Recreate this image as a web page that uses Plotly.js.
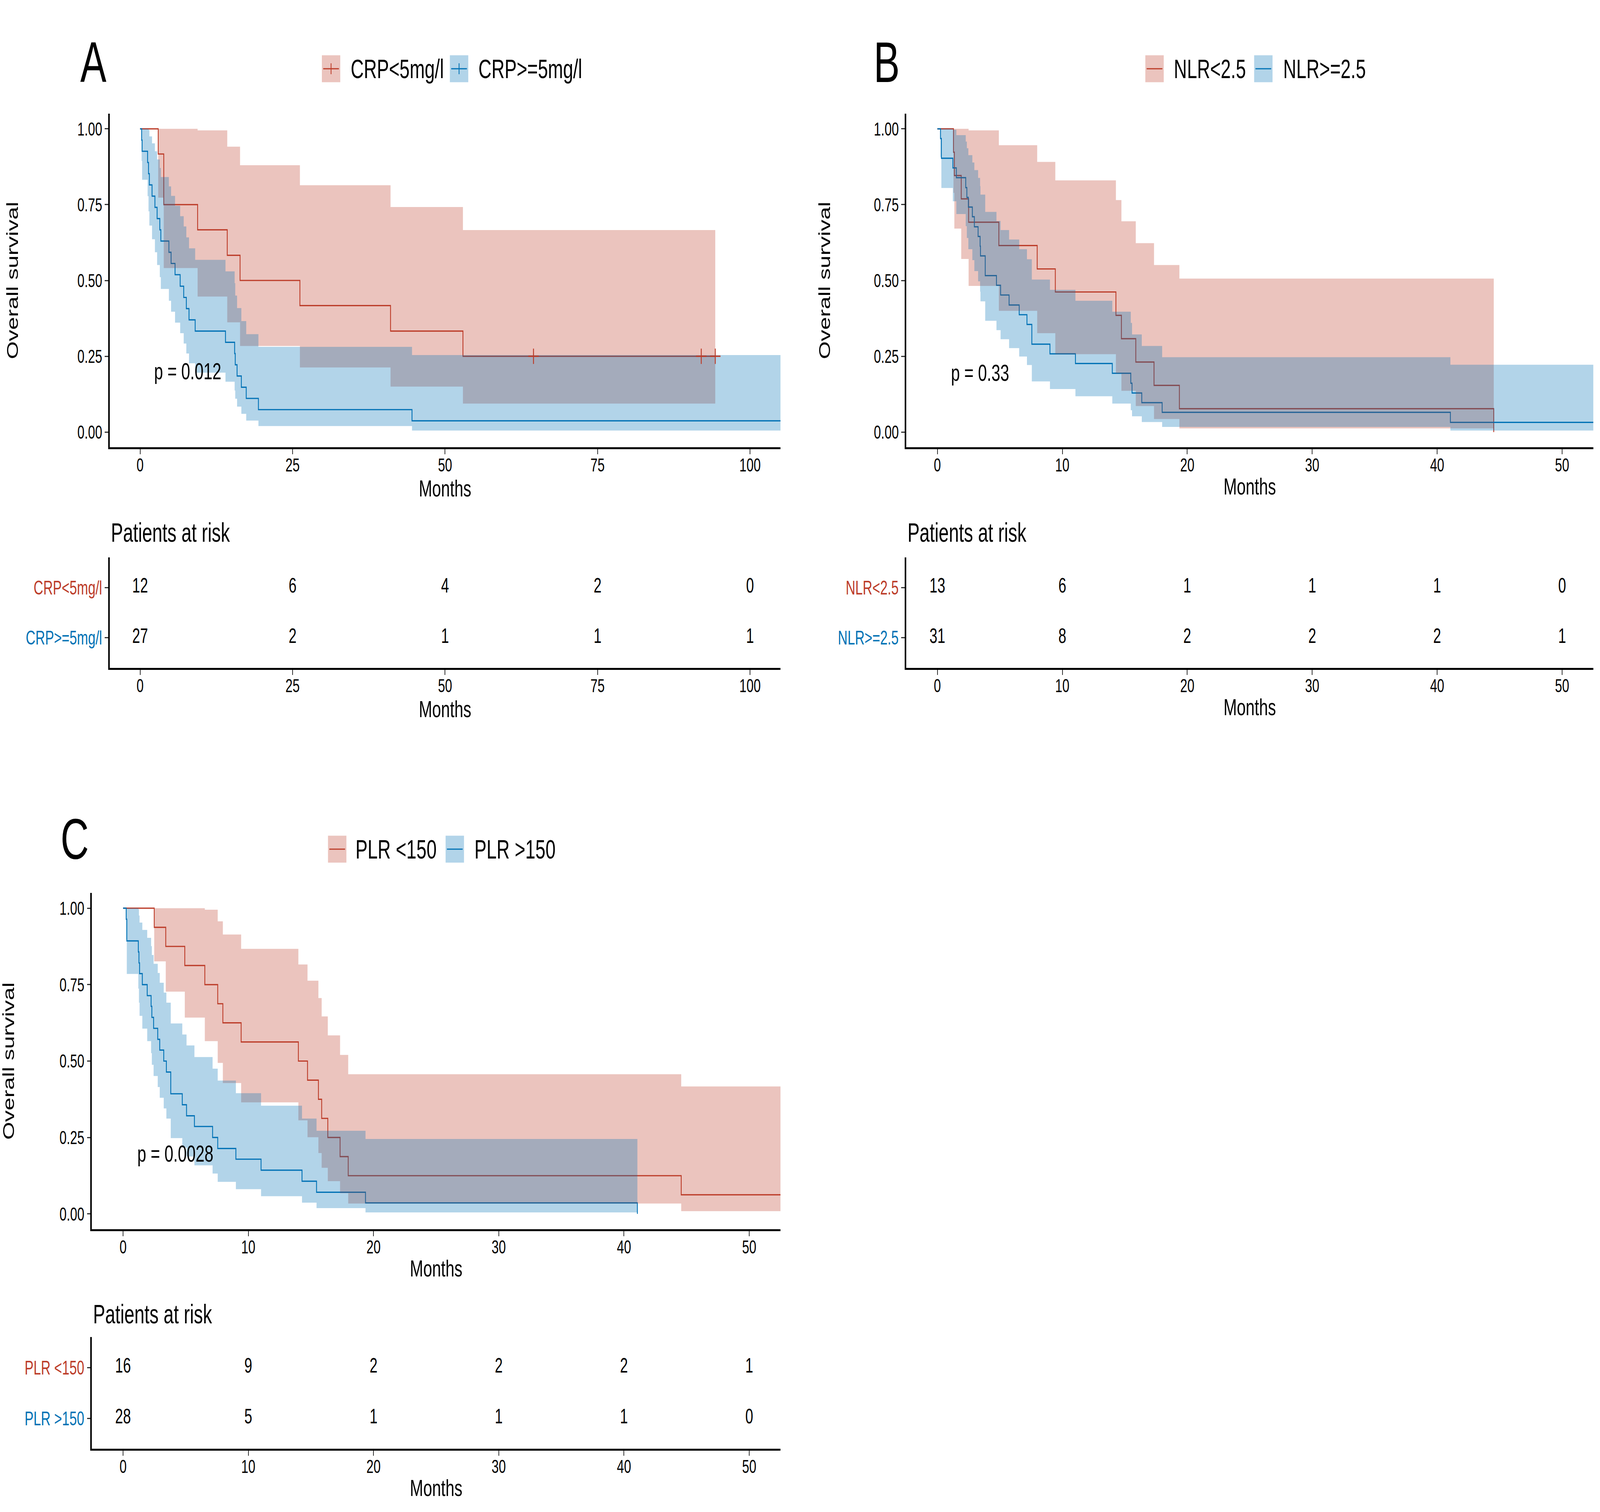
<!DOCTYPE html>
<html>
<head>
<meta charset="utf-8">
<script src="https://cdn.plot.ly/plotly-3.0.1.min.js"></script>
<style>
html,body{margin:0;padding:0;background:#fff;overflow:hidden;width:100%;height:100%;}
#wrap{position:absolute;left:0;top:0;width:6000px;height:3871px;transform-origin:0 0;}
#chart{width:6000px;height:3871px;}
</style>
</head>
<body>
<div id="wrap"><div id="chart"></div></div>
<script>
// ---------------- DATA ----------------
// Panel A : CRP
const aGroups = ['CRP<5mg/l', 'CRP>=5mg/l'];
const aTimeRed  = [2.97, 3.88, 9.43, 14.29, 16.39, 26.2, 41.06, 52.93];
const aSurvRed  = [0.917, 0.750, 0.667, 0.583, 0.500, 0.417, 0.333, 0.250];
const aUpperRed = [1, 1, 0.995, 0.941, 0.880, 0.814, 0.742, 0.666];
const aLowerRed = [0.773, 0.541, 0.447, 0.362, 0.284, 0.213, 0.150, 0.094];
const aEndRed = 94.3;
const aCensorRed = [64.5, 92.0, 94.3];
const aCensorRedSurv = [0.25, 0.25, 0.25];
const aTimeBlue  = [0.25, 0.33, 1.23, 1.38, 1.52, 1.96, 2.43, 2.79, 3.23, 3.40, 4.72, 5.08, 5.73, 6.57, 7.15, 7.58, 8.02, 9.03, 14.0, 15.5, 15.6, 15.9, 16.6, 17.4, 19.4, 44.58];
const aSurvBlue  = [0.963, 0.926, 0.889, 0.852, 0.815, 0.778, 0.741, 0.704, 0.667, 0.630, 0.593, 0.556, 0.519, 0.481, 0.444, 0.407, 0.370, 0.333, 0.296, 0.259, 0.222, 0.185, 0.148, 0.111, 0.074, 0.037];
const aUpperBlue = [1, 1, 1, 0.997, 0.975, 0.952, 0.926, 0.899, 0.871, 0.841, 0.810, 0.779, 0.746, 0.712, 0.678, 0.642, 0.606, 0.568, 0.530, 0.491, 0.450, 0.409, 0.366, 0.323, 0.281, 0.254];
const aLowerBlue = [0.894, 0.832, 0.778, 0.728, 0.681, 0.636, 0.593, 0.551, 0.511, 0.472, 0.433, 0.397, 0.361, 0.326, 0.292, 0.259, 0.227, 0.196, 0.166, 0.137, 0.110, 0.084, 0.060, 0.038, 0.020, 0.005];
const aEndBlue = 105;
const aRiskTimes = [0, 25, 50, 75, 100];
const aRiskRed  = [12, 6, 4, 2, 0];
const aRiskBlue = [27, 2, 1, 1, 1];
const aPval = 'p = 0.012';

// Panel B : NLR
const bGroups = ['NLR<2.5', 'NLR>=2.5'];
const bTimeRed  = [1.29, 1.36, 1.91, 2.50, 4.92, 7.99, 9.44, 14.29, 14.73, 15.88, 17.34, 19.37, 44.53];
const bSurvRed  = [0.923, 0.846, 0.769, 0.692, 0.615, 0.538, 0.462, 0.385, 0.308, 0.231, 0.154, 0.077, 0];
const bUpperRed = [1, 1, 1, 0.995, 0.946, 0.891, 0.830, 0.765, 0.695, 0.623, 0.551, 0.506, null];
const bLowerRed = [0.789, 0.671, 0.571, 0.482, 0.400, 0.326, 0.257, 0.193, 0.136, 0.086, 0.043, 0.012, null];
const bEndRed = 44.53;
const bTimeBlue  = [0.25, 0.32, 1.24, 1.52, 2.27, 2.36, 2.48, 2.80, 2.96, 3.26, 3.42, 3.45, 3.83, 4.73, 5.06, 5.74, 6.55, 7.17, 7.56, 9.01, 11.05, 14.0, 15.48, 15.58, 16.36, 17.99, 41.06];
const bSurvBlue  = [0.968, 0.903, 0.871, 0.839, 0.806, 0.774, 0.742, 0.710, 0.677, 0.645, 0.613, 0.581, 0.516, 0.484, 0.452, 0.419, 0.387, 0.355, 0.290, 0.258, 0.226, 0.194, 0.161, 0.129, 0.097, 0.065, 0.032];
const bUpperBlue = [1, 1, 0.997, 0.979, 0.958, 0.936, 0.913, 0.889, 0.864, 0.838, 0.811, 0.783, 0.726, 0.696, 0.666, 0.635, 0.603, 0.570, 0.503, 0.469, 0.433, 0.397, 0.360, 0.322, 0.284, 0.247, 0.222];
const bLowerBlue = [0.907, 0.805, 0.761, 0.719, 0.679, 0.640, 0.603, 0.567, 0.531, 0.497, 0.463, 0.431, 0.367, 0.336, 0.306, 0.277, 0.249, 0.221, 0.167, 0.142, 0.118, 0.094, 0.072, 0.052, 0.033, 0.017, 0.005];
const bEndBlue = 52.5;
const bRiskTimes = [0, 10, 20, 30, 40, 50];
const bRiskRed  = [13, 6, 1, 1, 1, 0];
const bRiskBlue = [31, 8, 2, 2, 2, 1];
const bPval = 'p = 0.33';

// Panel C : PLR
const cGroups = ['PLR <150', 'PLR >150'];
const cTimeRed  = [2.49, 3.41, 4.93, 6.53, 7.56, 7.97, 9.43, 14.0, 14.73, 15.6, 15.86, 16.35, 17.33, 17.98, 44.57];
const cSurvRed  = [0.9375, 0.875, 0.8125, 0.75, 0.6875, 0.625, 0.5625, 0.5, 0.4375, 0.375, 0.3125, 0.25, 0.1875, 0.125, 0.0625];
const cUpperRed = [1, 1, 1, 0.995, 0.957, 0.914, 0.867, 0.816, 0.763, 0.706, 0.646, 0.584, 0.520, 0.457, 0.417];
const cLowerRed = [0.826, 0.727, 0.642, 0.565, 0.494, 0.428, 0.365, 0.306, 0.251, 0.199, 0.151, 0.107, 0.068, 0.034, 0.009];
const cEndRed = 52.5;
const cTimeBlue  = [0.25, 0.30, 1.22, 1.27, 1.32, 1.54, 1.93, 2.24, 2.30, 2.44, 2.77, 2.93, 3.25, 3.46, 3.81, 4.73, 5.07, 5.70, 7.15, 7.56, 9.01, 11.02, 14.29, 15.45, 19.36, 41.07];
const cSurvBlue  = [0.964, 0.893, 0.857, 0.821, 0.786, 0.750, 0.714, 0.679, 0.643, 0.607, 0.571, 0.536, 0.500, 0.464, 0.393, 0.357, 0.321, 0.286, 0.250, 0.214, 0.179, 0.143, 0.107, 0.071, 0.036, 0];
const cUpperBlue = [1, 1, 0.997, 0.976, 0.953, 0.929, 0.903, 0.876, 0.847, 0.818, 0.788, 0.756, 0.724, 0.691, 0.623, 0.587, 0.551, 0.513, 0.475, 0.436, 0.395, 0.354, 0.312, 0.272, 0.245, null];
const cLowerBlue = [0.898, 0.785, 0.737, 0.691, 0.648, 0.606, 0.565, 0.526, 0.488, 0.451, 0.415, 0.380, 0.345, 0.312, 0.248, 0.217, 0.188, 0.159, 0.132, 0.105, 0.081, 0.058, 0.037, 0.019, 0.005, null];
const cEndBlue = 41.07;
const cRiskTimes = [0, 10, 20, 30, 40, 50];
const cRiskRed  = [16, 9, 2, 2, 2, 1];
const cRiskBlue = [28, 5, 1, 1, 1, 0];
const cPval = 'p = 0.0028';

const yTickVals = [0, 0.25, 0.5, 0.75, 1];
const yTickText = ['0.00', '0.25', '0.50', '0.75', '1.00'];

// ---------------- STYLE ----------------
const RED = '#BC3C29', BLUE = '#0072B5';
const RED_FILL = 'rgba(188,60,41,0.3)', BLUE_FILL = 'rgba(0,114,181,0.3)';
const FONT = 'Liberation Sans, Arial, sans-serif';
const W = 6000, H = 3871;
const PX = v => v / W, PY = v => 1 - v / H;
const esc = s => s.replace(/</g, '&lt;').replace(/>/g, '&gt;');

// fit the 6000x3871 design into whatever window the page is opened in
(function fit() {
  const sx = (window.innerWidth || W) / W, sy = (window.innerHeight || H) / H;
  document.getElementById('wrap').style.transform = 'scale(' + sx + ',' + sy + ')';
})();

function curve(t, s, tEnd) {
  const x = [0].concat(t), y = [1].concat(s);
  if (s[s.length - 1] > 0) { x.push(tEnd); y.push(s[s.length - 1]); }
  return {x, y};
}
function band(t, up, lo, tEnd) {
  const idx = [];
  for (let i = 0; i < t.length; i++) if (up[i] != null && lo[i] != null) idx.push(i);
  const xs = [], ys = [];
  idx.forEach(i => { const x1 = i + 1 < t.length ? t[i + 1] : tEnd; xs.push(t[i], x1); ys.push(up[i], up[i]); });
  idx.slice().reverse().forEach(i => { const x1 = i + 1 < t.length ? t[i + 1] : tEnd; xs.push(x1, t[i]); ys.push(lo[i], lo[i]); });
  return {x: xs, y: ys};
}

const traces = [];
function addPanel(xa, ya, xt, yt, red, blue, risk) {
  const cr = curve(red.t, red.s, red.end), cb = curve(blue.t, blue.s, blue.end);
  traces.push({type: 'scatter', mode: 'lines', x: cr.x, y: cr.y, xaxis: xa, yaxis: ya, line: {color: RED, width: 3.2, shape: 'hv'}, hoverinfo: 'skip', showlegend: false});
  traces.push({type: 'scatter', mode: 'lines', x: cb.x, y: cb.y, xaxis: xa, yaxis: ya, line: {color: BLUE, width: 3.2, shape: 'hv'}, hoverinfo: 'skip', showlegend: false});
  const br = band(red.t, red.u, red.l, red.end), bb = band(blue.t, blue.u, blue.l, blue.end);
  traces.push({type: 'scatter', mode: 'lines', x: br.x, y: br.y, xaxis: xa, yaxis: ya, fill: 'toself', fillcolor: RED_FILL, line: {width: 0, color: 'rgba(0,0,0,0)'}, hoverinfo: 'skip', showlegend: false});
  traces.push({type: 'scatter', mode: 'lines', x: bb.x, y: bb.y, xaxis: xa, yaxis: ya, fill: 'toself', fillcolor: BLUE_FILL, line: {width: 0, color: 'rgba(0,0,0,0)'}, hoverinfo: 'skip', showlegend: false});
  if (red.cx) {
    traces.push({type: 'scatter', mode: 'markers', x: red.cx, y: red.cy, xaxis: xa, yaxis: ya, marker: {symbol: 'cross-thin', size: 28, line: {color: RED, width: 3.5}}, hoverinfo: 'skip', showlegend: false});
  }
  traces.push({type: 'scatter', mode: 'text', x: risk.t, y: risk.t.map(() => 2), text: risk.r.map(String), xaxis: xt, yaxis: yt, textfont: {family: FONT, size: 53, color: '#000'}, textposition: 'middle center', hoverinfo: 'skip', showlegend: false});
  traces.push({type: 'scatter', mode: 'text', x: risk.t, y: risk.t.map(() => 1), text: risk.b.map(String), xaxis: xt, yaxis: yt, textfont: {family: FONT, size: 53, color: '#000'}, textposition: 'middle center', hoverinfo: 'skip', showlegend: false});
}

addPanel('x', 'y', 'x2', 'y2',
  {t: aTimeRed, s: aSurvRed, u: aUpperRed, l: aLowerRed, end: aEndRed, cx: aCensorRed, cy: aCensorRedSurv},
  {t: aTimeBlue, s: aSurvBlue, u: aUpperBlue, l: aLowerBlue, end: aEndBlue},
  {t: aRiskTimes, r: aRiskRed, b: aRiskBlue});
addPanel('x3', 'y3', 'x4', 'y4',
  {t: bTimeRed, s: bSurvRed, u: bUpperRed, l: bLowerRed, end: bEndRed},
  {t: bTimeBlue, s: bSurvBlue, u: bUpperBlue, l: bLowerBlue, end: bEndBlue},
  {t: bRiskTimes, r: bRiskRed, b: bRiskBlue});
addPanel('x5', 'y5', 'x6', 'y6',
  {t: cTimeRed, s: cSurvRed, u: cUpperRed, l: cLowerRed, end: cEndRed},
  {t: cTimeBlue, s: cSurvBlue, u: cUpperBlue, l: cLowerBlue, end: cEndBlue},
  {t: cRiskTimes, r: cRiskRed, b: cRiskBlue});

// ---------------- AXES ----------------
const baseAx = {
  showline: true, linecolor: '#000', linewidth: 5, showgrid: false, zeroline: false,
  ticks: 'outside', ticklen: 13, tickwidth: 3, tickcolor: '#333',
  tickfont: {family: FONT, size: 48, color: '#000'}, fixedrange: true
};
function xAx(dom, range, ticks, anchor, standoff) {
  return Object.assign({}, baseAx, {domain: dom, range: range, tickvals: ticks, ticktext: ticks.map(String), anchor: anchor,
    ticklabelstandoff: -14,
    title: {text: 'Months', font: {family: FONT, size: 60, color: '#000'}, standoff: standoff}});
}
function yMain(dom, anchor, standoff) {
  return Object.assign({}, baseAx, {domain: dom, range: [-0.05, 1.05], tickvals: yTickVals, ticktext: yTickText, anchor: anchor,
    title: {text: 'Overall survival', font: {family: FONT, size: 59, color: '#000'}, standoff: standoff}});
}
function yTab(dom, anchor, groups) {
  return Object.assign({}, baseAx, {domain: dom, range: [0.4, 2.6], tickvals: [2, 1], anchor: anchor,
    ticktext: ['<span style="color:' + RED + '">' + esc(groups[0]) + '</span>', '<span style="color:' + BLUE + '">' + esc(groups[1]) + '</span>'],
    tickfont: {family: FONT, size: 50, color: '#000'}});
}

const xA = [PX(411), PX(2927)], xB = [PX(3398), PX(5975)], xC = [PX(344), PX(2927)];
const yTop = [PY(1145), PY(291)], yTopTab = [PY(1710), PY(1427)];
const yBot = [PY(3147), PY(2286)], yBotTab = [PY(3709), PY(3423)];

const layout = {
  width: W, height: H, margin: {l: 0, r: 0, t: 0, b: 0},
  paper_bgcolor: '#fff', plot_bgcolor: '#fff', showlegend: false,
  font: {family: FONT, color: '#000'},
  xaxis:  xAx(xA, [-5, 105], [0, 25, 50, 75, 100], 'y', 10),
  yaxis:  yMain(yTop, 'x', 204),
  xaxis2: xAx(xA, [-5, 105], [0, 25, 50, 75, 100], 'y2', 10),
  yaxis2: yTab(yTopTab, 'x2', aGroups),
  xaxis3: xAx(xB, [-2.5, 52.5], [0, 10, 20, 30, 40, 50], 'y3', 10),
  yaxis3: yMain(yTop, 'x3', 146),
  xaxis4: xAx(xB, [-2.5, 52.5], [0, 10, 20, 30, 40, 50], 'y4', 10),
  yaxis4: yTab(yTopTab, 'x4', bGroups),
  xaxis5: xAx(xC, [-2.5, 52.5], [0, 10, 20, 30, 40, 50], 'y5', 10),
  yaxis5: yMain(yBot, 'x5', 172),
  xaxis6: xAx(xC, [-2.5, 52.5], [0, 10, 20, 30, 40, 50], 'y6', 10),
  yaxis6: yTab(yBotTab, 'x6', cGroups),
  annotations: [], shapes: []
};

const ann = layout.annotations, shp = layout.shapes;
function paperText(text, x, y, size, xanchor) {
  ann.push({xref: 'paper', yref: 'paper', x: PX(x), y: PY(y), text: text, showarrow: false, xanchor: xanchor || 'center', yanchor: 'middle',
    font: {family: FONT, size: size, color: '#000'}});
}
// Panel letters
paperText('A', 350, 159, 147);
paperText('B', 3325, 159, 147);
paperText('C', 280, 2148, 147);
// Risk table titles
paperText('Patients at risk', 414, 1363, 68, 'left');
paperText('Patients at risk', 3401, 1363, 68, 'left');
paperText('Patients at risk', 347, 3364, 68, 'left');
// p-values
ann.push({xref: 'x', yref: 'y', x: 2.2, y: 0.2, text: aPval, showarrow: false, xanchor: 'left', yanchor: 'middle', font: {family: FONT, size: 60, color: '#000'}});
ann.push({xref: 'x3', yref: 'y3', x: 1.05, y: 0.196, text: bPval, showarrow: false, xanchor: 'left', yanchor: 'middle', font: {family: FONT, size: 60, color: '#000'}});
ann.push({xref: 'x5', yref: 'y5', x: 1.1, y: 0.197, text: cPval, showarrow: false, xanchor: 'left', yanchor: 'middle', font: {family: FONT, size: 60, color: '#000'}});

// Legends (keys drawn as shapes, labels as text)
function legendKey(x0, yc, fill, col, cross) {
  shp.push({type: 'rect', xref: 'paper', yref: 'paper', x0: PX(x0), x1: PX(x0 + 69), y0: PY(yc + 34.5), y1: PY(yc - 34.5), fillcolor: fill, line: {width: 0}, layer: 'above'});
  shp.push({type: 'line', xref: 'paper', yref: 'paper', x0: PX(x0 + 5), x1: PX(x0 + 64), y0: PY(yc), y1: PY(yc), line: {color: col, width: 3}, layer: 'above'});
  if (cross) shp.push({type: 'line', xref: 'paper', yref: 'paper', x0: PX(x0 + 34.5), x1: PX(x0 + 34.5), y0: PY(yc - 14), y1: PY(yc + 14), line: {color: col, width: 3}, layer: 'above'});
}
legendKey(1207, 176, RED_FILL, RED, true);  paperText(esc(aGroups[0]), 1313, 176, 68, 'left');
legendKey(1687, 176, BLUE_FILL, BLUE, true); paperText(esc(aGroups[1]), 1792, 176, 68, 'left');
legendKey(4295, 176, RED_FILL, RED, false);  paperText(esc(bGroups[0]), 4400, 176, 68, 'left');
legendKey(4703, 176, BLUE_FILL, BLUE, false); paperText(esc(bGroups[1]), 4810, 176, 68, 'left');
legendKey(1230, 2174, RED_FILL, RED, false);  paperText(esc(cGroups[0]), 1331, 2174, 68, 'left');
legendKey(1671, 2174, BLUE_FILL, BLUE, false); paperText(esc(cGroups[1]), 1777, 2174, 68, 'left');

Plotly.newPlot('chart', traces, layout, {staticPlot: true, displayModeBar: false});
</script>
</body>
</html>
